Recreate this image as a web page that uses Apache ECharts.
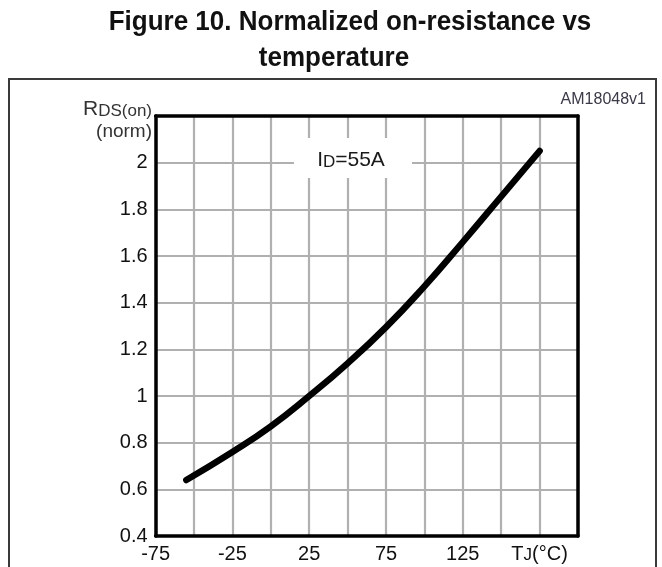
<!DOCTYPE html>
<html>
<head>
<meta charset="utf-8">
<script src="https://cdn.jsdelivr.net/npm/echarts@6/dist/echarts.min.js"></script>
<style>
html,body{margin:0;padding:0;background:#fff;}
#c{width:662px;height:567px;}
</style>
</head>
<body>
<div id="c"></div>
<script>
// Data
const tempC   = [-55, -25, 0, 25, 50, 75, 100, 125, 150, 175];
const rdsNorm = [0.64, 0.76, 0.87, 1.0, 1.14, 1.295, 1.47, 1.66, 1.855, 2.05];
const xTickLabels = ['-75', '-25', '25', '75', '125'];
const yTickValues = [0.4, 0.6, 0.8, 1, 1.2, 1.4, 1.6, 1.8, 2];

const FONT = '"Liberation Sans", Arial, sans-serif';
const chart = echarts.init(document.getElementById('c'), null, {renderer: 'canvas'});

const option = {
  backgroundColor: '#fff',
  animation: false,
  grid: {left: 155.6, right: 84, top: 116, bottom: 31, show: false},
  xAxis: [{
    type: 'value', min: -75, max: 200, interval: 25,
    axisLine: {show: true, onZero: false, lineStyle: {color: '#000', width: 3.5}},
    axisTick: {show: false},
    splitLine: {show: true, lineStyle: {color: '#b0b0b0', width: 2.2}},
    axisLabel: {
      margin: 8, color: '#111', fontFamily: FONT, fontSize: 20,
      formatter: function (v) {
        if (v === 175) return '{t|T}{s|J}{t|(°C)}';
        const s = String(v);
        return xTickLabels.indexOf(s) >= 0 ? s : '';
      },
      rich: {
        t: {fontFamily: FONT, fontSize: 20, color: '#111'},
        s: {fontFamily: FONT, fontSize: 17, color: '#111', verticalAlign: 'bottom'}
      }
    }
  }, {
    type: 'value', position: 'top', min: -75, max: 200, interval: 25,
    axisLine: {show: true, onZero: false, lineStyle: {color: '#000', width: 3.5}},
    axisTick: {show: false}, axisLabel: {show: false}, splitLine: {show: false}
  }],
  yAxis: [{
    type: 'value', min: 0.4, max: 2.2, interval: 0.2,
    axisLine: {show: true, onZero: false, lineStyle: {color: '#000', width: 3.5}},
    axisTick: {show: false},
    splitLine: {show: true, lineStyle: {color: '#b0b0b0', width: 2.2}},
    axisLabel: {
      margin: 8, color: '#111', fontFamily: FONT, fontSize: 20,
      formatter: function (v) {
        const r = Math.round(v * 10) / 10;
        return yTickValues.indexOf(r) >= 0 ? String(r) : '';
      }
    }
  }, {
    type: 'value', position: 'right', min: 0.4, max: 2.2, interval: 0.2,
    axisLine: {show: true, onZero: false, lineStyle: {color: '#000', width: 3.5}},
    axisTick: {show: false}, axisLabel: {show: false}, splitLine: {show: false}
  }],
  series: [{
    type: 'line',
    data: tempC.map((t, i) => [t, rdsNorm[i]]),
    smooth: 0.5,
    showSymbol: false,
    lineStyle: {color: '#000', width: 6.5, cap: 'round'},
    z: 5
  }],
  graphic: [
    {type: 'rect', z: 0, shape: {x: 9, y: 79, width: 647, height: 520},
      style: {fill: 'none', stroke: '#3a3a3a', lineWidth: 2}},
    {type: 'text', x: 350, y: 22, scaleY: 1.08, style: {text: 'Figure 10. Normalized on-resistance vs',
      font: 'bold 26px ' + FONT, fill: '#111', align: 'center', verticalAlign: 'middle'}},
    {type: 'text', x: 334, y: 58, scaleY: 1.08, style: {text: 'temperature',
      font: 'bold 26px ' + FONT, fill: '#111', align: 'center', verticalAlign: 'middle'}},
    {type: 'text', x: 646, y: 100, style: {text: 'AM18048v1',
      font: '16px ' + FONT, fill: '#3a3a48', align: 'right', verticalAlign: 'middle'}},
    {type: 'text', x: 152, y: 109, style: {
      text: '{r|R}{s|DS(on)}', align: 'right', verticalAlign: 'middle',
      rich: {r: {font: '21px ' + FONT, fill: '#333'}, s: {font: '17px ' + FONT, fill: '#333', verticalAlign: 'bottom'}}}},
    {type: 'text', x: 152, y: 132, style: {text: '(norm)',
      font: '19px ' + FONT, fill: '#333', align: 'right', verticalAlign: 'middle'}},
    {type: 'rect', z: 10, shape: {x: 294, y: 138, width: 118, height: 40},
      style: {fill: '#fff'}},
    {type: 'text', z: 11, x: 351, y: 160, style: {
      text: '{r|I}{s|D}{r|=55A}', align: 'center', verticalAlign: 'middle',
      rich: {r: {font: '21px ' + FONT, fill: '#1a1a1a'}, s: {font: '17px ' + FONT, fill: '#1a1a1a', verticalAlign: 'bottom'}}}}
  ]
};
chart.setOption(option);
</script>
</body>
</html>
